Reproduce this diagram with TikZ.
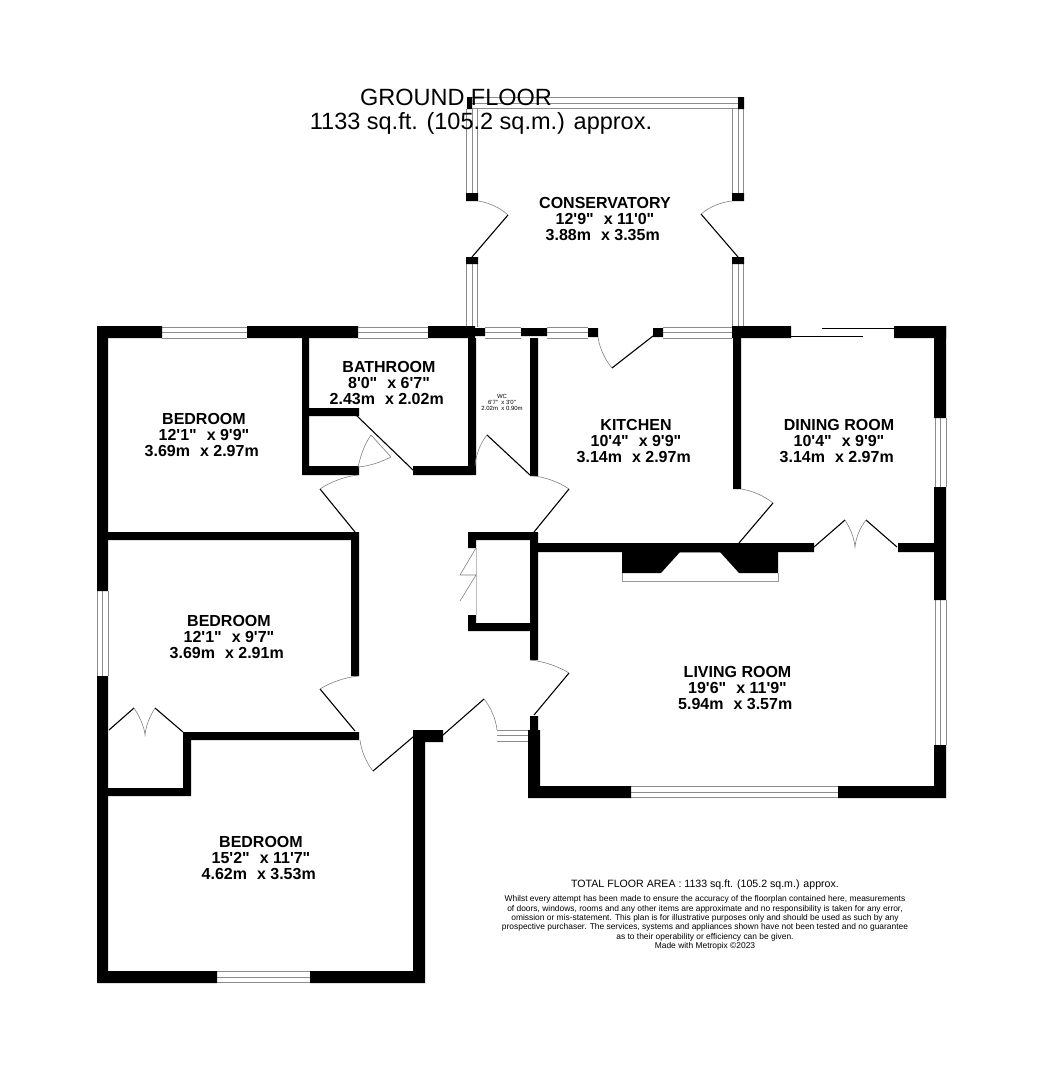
\documentclass[tikz,border=0pt]{standalone}
\usepackage{fontspec}
\newfontfamily\planfont{Liberation Sans}
\usetikzlibrary{calc}

\tikzset{
	wall/.style={fill=black,draw=none},
	winline/.style={draw=black!45,line width=0.9pt},
	doorleaf/.style={draw=black,line width=1.1pt},
	doorarc/.style={draw=black!50,line width=0.6pt},
	thinline/.style={draw=black!40,line width=0.6pt},
	roomlabel/.style={font=\planfont\bfseries\fontsize{16}{16.2}\selectfont,align=center,inner sep=0pt},
	smalllabel/.style={font=\planfont\fontsize{6}{6}\selectfont,align=center,inner sep=0pt},
	titlelabel/.style={font=\planfont\fontsize{23.5}{24}\selectfont,align=center,inner sep=0pt},
	footlabel/.style={font=\planfont\fontsize{10.6}{12}\selectfont,align=center,inner sep=0pt},
	noticelabel/.style={font=\planfont\fontsize{8.42}{9.4}\selectfont,align=center,inner sep=0pt}
}
% window across a wall: three lines, left/right/top/bottom
\newcommand{\winH}[3]{\draw[winline] (#1,#3-5.5) -- (#2,#3-5.5) (#1,#3) -- (#2,#3) (#1,#3+5.5) -- (#2,#3+5.5);}
\newcommand{\winV}[3]{\draw[winline] (#1-5.5,#2) -- (#1-5.5,#3) (#1,#2) -- (#1,#3) (#1+5.5,#2) -- (#1+5.5,#3);}
% door: hinge, jamb the arc starts from, tip of the leaf
\newcommand{\swing}[3]{%
	\draw[doorleaf] (#1) -- (#3);
	\coordinate (swingtop) at ($(#1)!1.1!($(#2)!.5!(#3)$)$);
	\draw[doorarc] (#2) .. controls ($(#2)!.6!(swingtop)$) and ($(#3)!.6!(swingtop)$) .. (#3);}
% room size line
\newcommand{\dims}[2]{#1\hspace{10pt}x #2\hspace*{4.5pt}}

\begin{document}
\begin{tikzpicture}[x=1pt,y=-1pt]
	\useasboundingbox (0,0) rectangle (1043,1080);
	% conservatory windows
	\winH{472}{738}{103}
	\winV{472}{109}{193}
	\winV{738}{109}{193}
	\winV{472}{264}{327}
	\winV{738}{264}{327}
	% windows in the outer walls
	\winH{162}{247}{332.5}
	\winH{358}{428}{332.5}
	\winH{485}{521}{332.5}
	\winH{547}{588}{332.5}
	\winH{663}{732}{332.5}
	\winV{940.5}{418}{487}
	\winV{940.5}{600}{745}
	\winH{631}{838}{792}
	\winV{102.5}{591}{676}
	\winH{217}{310}{977}
	\winH{497}{528}{735.5}
	% outer walls
	\fill[wall] (97,326) rectangle (162,338) (247,326) rectangle (358,338)
		(428,326) rectangle (475,338) (475,328) rectangle (485,336)
		(521,328) rectangle (547,336) (588,328) rectangle (598,337)
		(653,328) rectangle (663,337) (732,326) rectangle (791,338)
		(894,326) rectangle (946,338);
	\fill[wall] (934,326) rectangle (946,418) (934,487) rectangle (946,600)
		(934,745) rectangle (946,798) (838,786) rectangle (946,798)
		(528,786) rectangle (631,798) (528,730) rectangle (540,798)
		(530,716) rectangle (538,730);
	\fill[wall] (97,326) rectangle (108,591) (97,676) rectangle (108,983)
		(97,971) rectangle (217,983) (310,971) rectangle (425,983)
		(413,730) rectangle (425,983) (413,730) rectangle (443,742);
	% inner walls
	\fill[wall] (302,338) rectangle (309,475) (302,466) rectangle (359,475)
		(309,408) rectangle (359,416) (413,466) rectangle (476,475)
		(468,338) rectangle (476,475) (530,338) rectangle (538,476);
	\fill[wall] (108,532) rectangle (359,540) (351,532) rectangle (359,676)
		(183,732) rectangle (359,740)
		(183,732) rectangle (191,796) (108,788) rectangle (191,796);
	\fill[wall] (468,532) rectangle (538,540) (468,532) rectangle (476,548)
		(468,623) rectangle (538,631) (468,615) rectangle (476,631)
		(530,532) rectangle (538,660);
	\fill[wall] (538,543) rectangle (814,552) (898,543) rectangle (934,552)
		(733,338) rectangle (741,489);
	% chimney breast
	\fill[wall] (622,552) -- (680,552) -- (661,573) -- (622,573) -- cycle;
	\fill[wall] (720,552) -- (778,552) -- (778,573) -- (739,573) -- cycle;
	\draw[thinline] (622,573) -- (622,581) -- (778,581) -- (778,573);
	\draw[thinline] (680,552.5) -- (720,552.5);
	% conservatory posts
	\fill[wall] (467,97) rectangle (472,109) (738,97) rectangle (744,109)
		(466,193) rectangle (478,201) (466,257) rectangle (478,264)
		(732,193) rectangle (744,201) (732,257) rectangle (744,264);
	% doors
	\swing{472,257}{478,201}{508,215}
	\swing{738,257}{732,201}{701,214}
	\swing{653,336}{598,337}{612,368}
	\swing{530,475}{475,466}{487,435}
	\swing{534,532}{533,476}{569,489}
	\swing{355,532}{358,475}{320,489}
	\swing{355,731}{359,676}{320,689}
	\swing{413,737}{360,740}{373,771}
	\swing{443,735}{497,730}{484,699}
	\swing{534,715}{530,660}{569,673}
	\swing{739,543}{741,489}{773,503}
	\draw[doorleaf] (356,415) -- (413,470);
	\draw[doorarc] (358,467) .. controls (361,455) and (364,445) .. (371,435);
	\draw[doorarc] (358,467) .. controls (370,466) and (381,462) .. (391,457);
	\draw[doorarc] (371,435) -- (391,457);
	% double doors
	\draw[doorleaf] (814,547) -- (845,520) (866,520) -- (897,547);
	\draw[doorarc] (845,520) .. controls (850,528) and (854,537) .. (855,547) .. controls (856,537) and (860,528) .. (866,520);
	\draw[doorleaf] (109,730) -- (134,708) (155,708) -- (183,732);
	\draw[doorarc] (134,708) .. controls (139,716) and (144,725) .. (145,735) .. controls (146,725) and (150,716) .. (155,708);
	% cupboard folding door
	\draw[doorarc,draw=black!25] (476,548) -- (476,615);
	\draw[doorarc] (476,548) -- (460,575) -- (476,575) -- (460,601);
	% sliding door
	\draw[draw=black,line width=0.9pt] (791,336) -- (863,336) (822,328) -- (894,328);
	% create the labels
	\node[titlelabel] (title) at (456,97) {GROUND FLOOR};
	\node[titlelabel] (area) at (481,123.5) {1133 sq.ft. (105.2 sq.m.) approx.};
	\node[roomlabel] (conservatory) at (605,219) {CONSERVATORY\\\dims{12'9"}{11'0"}\\\dims{3.88m}{3.35m}};
	\node[roomlabel] (bathroom) at (389,383) {BATHROOM\\\dims{8'0"}{6'7"}\\\dims{2.43m}{2.02m}};
	\node[roomlabel] (bedroomone) at (204,435) {BEDROOM\\\dims{12'1"}{9'9"}\\\dims{3.69m}{2.97m}};
	\node[roomlabel] (kitchen) at (636,441) {KITCHEN\\\dims{10'4"}{9'9"}\\\dims{3.14m}{2.97m}};
	\node[roomlabel] (dining) at (839,441) {DINING ROOM\\\dims{10'4"}{9'9"}\\\dims{3.14m}{2.97m}};
	\node[roomlabel] (bedroomtwo) at (229,637) {BEDROOM\\\dims{12'1"}{9'7"}\\\dims{3.69m}{2.91m}};
	\node[roomlabel] (living) at (737.5,688) {LIVING ROOM\\\dims{19'6"}{11'9"}\\\dims{5.94m}{3.57m}};
	\node[roomlabel] (bedroomthree) at (261,858) {BEDROOM\\\dims{15'2"}{11'7"}\\\dims{4.62m}{3.53m}};
	\node[smalllabel] (wc) at (502,402) {WC\\6'7"\ \ x 3'0"\\2.02m\ \ x 0.90m};
	\node[footlabel] (total) at (705,884.5) {TOTAL FLOOR AREA : 1133 sq.ft. (105.2 sq.m.) approx.};
	\node[noticelabel] (notice) at (705,923) {Whilst every attempt has been made to ensure the accuracy of the floorplan contained here, measurements\\
		of doors, windows, rooms and any other items are approximate and no responsibility is taken for any error,\\
		omission or mis-statement. This plan is for illustrative purposes only and should be used as such by any\\
		prospective purchaser. The services, systems and appliances shown have not been tested and no guarantee\\
		as to their operability or efficiency can be given.\\
		Made with Metropix \textcopyright2023};
\end{tikzpicture}
\end{document}
